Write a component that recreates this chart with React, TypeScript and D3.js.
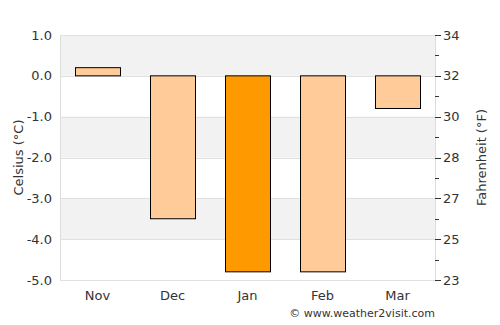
import React, { useRef, useEffect } from "react";
import * as d3 from "d3";

// Chart data
const months = ["Nov", "Dec", "Jan", "Feb", "Mar"];
const celsius = [0.2, -3.5, -4.8, -4.8, -0.8];
const highlight = ["Jan"];
const cTicks = [1, 0, -1, -2, -3, -4, -5];
const fLabels = ["34", "32", "30", "28", "27", "25", "23"];

function App() {
    const ref = useRef<SVGSVGElement>(null);
    const width = 500;
    const height = 325;

    useEffect(() => {
        const svg = d3.select(ref.current).html("");
        const m = { top: 35, right: 65, bottom: 45, left: 60 };
        const iw = width - m.left - m.right;
        const ih = height - m.top - m.bottom;
        const font = "DejaVu Sans, sans-serif";

        const x = d3.scaleBand().domain(months).range([m.left, m.left + iw]).paddingInner(0.4).paddingOuter(0.2);
        const y = d3.scaleLinear().domain([-5, 1]).range([m.top + ih, m.top]);

        // alternating background bands
        const bands = [[1, 0], [-1, -2], [-3, -4]];
        svg.append("g")
            .selectAll("rect")
            .data(bands)
            .join("rect")
            .attr("x", m.left)
            .attr("width", iw)
            .attr("y", (d) => y(d[0]))
            .attr("height", (d) => y(d[1]) - y(d[0]))
            .attr("fill", "#f2f2f2");

        // grid lines
        svg.append("g")
            .selectAll("line")
            .data(cTicks)
            .join("line")
            .attr("x1", m.left)
            .attr("x2", m.left + iw)
            .attr("y1", (d) => Math.round(y(d)) + 0.5)
            .attr("y2", (d) => Math.round(y(d)) + 0.5)
            .attr("stroke", "#e0e0e0");

        // left / right borders
        [m.left, m.left + iw].forEach((xx) => {
            svg.append("line")
                .attr("x1", xx + 0.5).attr("x2", xx + 0.5)
                .attr("y1", m.top).attr("y2", m.top + ih)
                .attr("stroke", "#dddddd");
        });

        // bars
        svg.append("g")
            .selectAll("rect")
            .data(months)
            .join("rect")
            .attr("x", (d) => Math.round(x(d)!) + 0.5)
            .attr("width", Math.round(x.bandwidth()))
            .attr("y", (d, i) => y(Math.max(0, celsius[i])))
            .attr("height", (d, i) => Math.abs(y(celsius[i]) - y(0)))
            .attr("fill", (d) => (highlight.includes(d) ? "#ff9900" : "#ffcc99"))
            .attr("stroke", "#000")
            .attr("stroke-width", 1);

        // left axis labels
        svg.append("g")
            .selectAll("text")
            .data(cTicks)
            .join("text")
            .attr("x", m.left - 8)
            .attr("y", (d) => y(d))
            .attr("dy", "0.35em")
            .attr("text-anchor", "end")
            .attr("font-family", font)
            .attr("font-size", 13)
            .attr("fill", "#333")
            .text((d) => d.toFixed(1));

        // right axis ticks (major + minor)
        const rx = m.left + iw;
        const minor = cTicks.slice(0, -1).map((d) => d - 0.5);
        svg.append("g")
            .selectAll("line")
            .data(cTicks.concat(minor))
            .join("line")
            .attr("x1", rx)
            .attr("x2", (d) => rx + (Number.isInteger(d) ? 6 : 4))
            .attr("y1", (d) => Math.round(y(d)) + 0.5)
            .attr("y2", (d) => Math.round(y(d)) + 0.5)
            .attr("stroke", "#333");

        svg.append("g")
            .selectAll("text")
            .data(cTicks)
            .join("text")
            .attr("x", rx + 8)
            .attr("y", (d) => y(d))
            .attr("dy", "0.35em")
            .attr("font-family", font)
            .attr("font-size", 13)
            .attr("fill", "#333")
            .text((d, i) => fLabels[i]);

        // category labels
        svg.append("g")
            .selectAll("text")
            .data(months)
            .join("text")
            .attr("x", (d) => x(d)! + x.bandwidth() / 2)
            .attr("y", m.top + ih + 20)
            .attr("text-anchor", "middle")
            .attr("font-family", font)
            .attr("font-size", 13)
            .attr("fill", "#333")
            .text((d) => d);

        // axis titles
        svg.append("text")
            .attr("transform", `translate(23, ${m.top + ih / 2}) rotate(-90)`)
            .attr("text-anchor", "middle")
            .attr("font-family", font)
            .attr("font-size", 13)
            .attr("fill", "#333")
            .text("Celsius (°C)");

        svg.append("text")
            .attr("transform", `translate(486, ${m.top + ih / 2}) rotate(-90)`)
            .attr("text-anchor", "middle")
            .attr("font-family", font)
            .attr("font-size", 13)
            .attr("fill", "#333")
            .text("Fahrenheit (°F)");

        // credit
        svg.append("text")
            .attr("x", 435)
            .attr("y", 317)
            .attr("text-anchor", "end")
            .attr("font-family", font)
            .attr("font-size", 11)
            .attr("fill", "#333")
            .text("© www.weather2visit.com");
    }, []);

    return <svg ref={ref} width={width} height={height} style={{ position: "absolute", left: 0, top: 0 }} />;
}

export default App;
